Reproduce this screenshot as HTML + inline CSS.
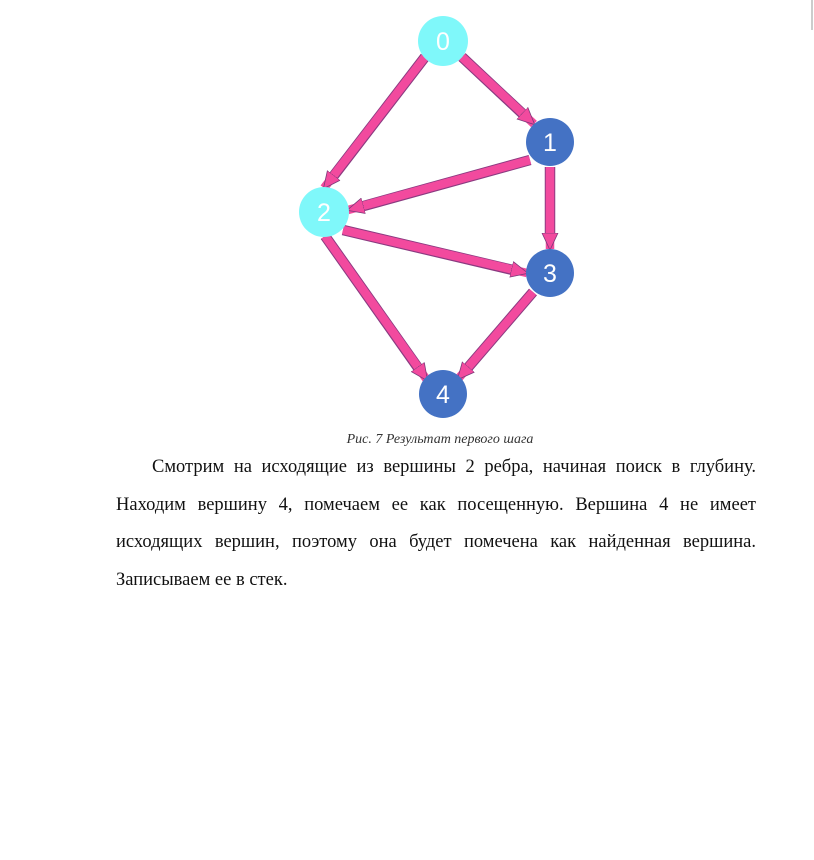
<!DOCTYPE html>
<html><head><meta charset="utf-8"><style>
body{margin:0;width:814px;height:860px;background:#fff;position:relative;overflow:hidden;font-family:"Liberation Serif",serif;}
svg{position:absolute;left:0;top:0}
.cap{position:absolute;top:432px;left:0;width:880px;text-align:center;font-style:italic;font-size:14px;color:#333}
.p{position:absolute;left:116px;width:640px;font-size:18.5px;line-height:37.5px;text-align:justify;text-align-last:justify;top:449px;color:#111}
.p span{display:block}
.last{text-align-last:left!important}
</style></head><body>
<svg width="814" height="860">
<defs>
<marker id="a" markerUnits="userSpaceOnUse" markerWidth="20" markerHeight="20" refX="16" refY="10" orient="auto"><path d="M0,2 L17,10 L0,18 Z" fill="#f24a9e" stroke="#7a3a7a" stroke-width="0.8"/></marker>
</defs>
<g stroke="#8a3a80" stroke-width="10.5">
<line x1="425" y1="57" x2="332" y2="178"/>
<line x1="462" y1="57" x2="525" y2="116"/>
<line x1="530" y1="160" x2="360" y2="207"/>
<line x1="550" y1="167" x2="550" y2="239"/>
<line x1="343" y1="230" x2="517" y2="271"/>
<line x1="325" y1="236" x2="421" y2="372"/>
<line x1="533" y1="292" x2="465" y2="371"/>
</g>
<g stroke="#f24a9e" stroke-width="8.5" marker-end="url(#a)">
<line x1="425" y1="57" x2="324" y2="188"/>
<line x1="462" y1="57" x2="534" y2="124"/>
<line x1="530" y1="160" x2="348" y2="210"/>
<line x1="550" y1="167" x2="550" y2="249"/>
<line x1="343" y1="230" x2="527" y2="273"/>
<line x1="325" y1="236" x2="427" y2="380"/>
<line x1="533" y1="292" x2="458" y2="379"/>
</g>
<g font-family="Liberation Sans, sans-serif" font-size="25" fill="#fff" text-anchor="middle">
<circle cx="443" cy="41" r="25" fill="#7ff8fa"/><text x="443" y="50">0</text>
<circle cx="550" cy="142" r="24" fill="#4472c4"/><text x="550" y="151">1</text>
<circle cx="324" cy="212" r="25" fill="#7ff8fa"/><text x="324" y="221">2</text>
<circle cx="550" cy="273" r="24" fill="#4472c4"/><text x="550" y="282">3</text>
<circle cx="443" cy="394" r="24" fill="#4472c4"/><text x="443" y="403">4</text>
</g>
<line x1="812" y1="0" x2="812" y2="30" stroke="#999" stroke-width="1"/>
</svg>
<div class="cap">Рис. 7 Результат первого шага</div>
<div class="p">
<span style="padding-left:36px">Смотрим на исходящие из вершины 2 ребра, начиная поиск в глубину.</span>
<span>Находим вершину 4, помечаем ее как посещенную. Вершина 4 не имеет</span>
<span>исходящих вершин, поэтому она будет помечена как найденная вершина.</span>
<span class="last">Записываем ее в стек.</span>
</div>
</body></html>
